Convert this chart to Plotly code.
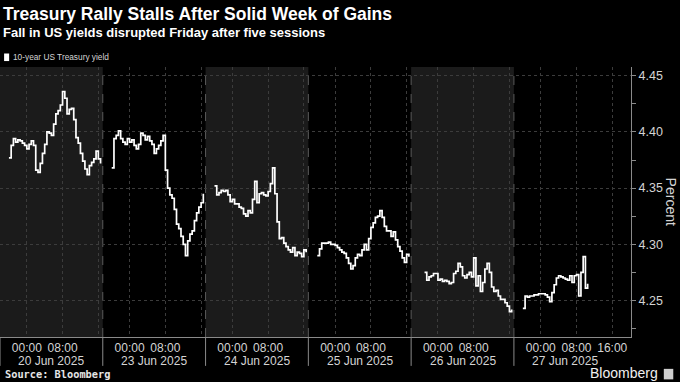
import pandas as pd
import plotly.graph_objects as go

# ---------------- data ----------------
session_starts = ["2025-06-19 20:00", "2025-06-22 20:00", "2025-06-23 20:00",
                  "2025-06-24 20:00", "2025-06-25 21:00", "2025-06-26 20:00"]
step = "30min"

yield_20jun = [4.377, 4.388, 4.394, 4.391, 4.393, 4.392, 4.390, 4.388, 4.385, 4.389, 4.392, 4.388,
               4.366, 4.364, 4.372, 4.381, 4.389, 4.400, 4.399, 4.397, 4.407, 4.416, 4.419, 4.424,
               4.436, 4.430, 4.416, 4.420, 4.421, 4.411, 4.395, 4.390, 4.381, 4.374, 4.367, 4.362,
               4.370, 4.373, 4.376, 4.383, 4.376, 4.372]
yield_23jun = [4.368, 4.394, 4.397, 4.401, 4.394, 4.391, 4.389, 4.394, 4.391, 4.393, 4.388, 4.385,
               4.389, 4.399, 4.397, 4.393, 4.396, 4.392, 4.389, 4.381, 4.385, 4.388, 4.392, 4.397,
               4.366, 4.350, 4.344, 4.341, 4.331, 4.318, 4.314, 4.307, 4.300, 4.290, 4.303, 4.309,
               4.312, 4.321, 4.328, 4.333, 4.337, 4.345]
yield_24jun = [4.352, 4.344, 4.346, 4.348, 4.347, 4.348, 4.344, 4.338, 4.340, 4.336, 4.336, 4.333,
               4.332, 4.327, 4.325, 4.330, 4.328, 4.340, 4.356, 4.337, 4.345, 4.346, 4.344, 4.343,
               4.347, 4.354, 4.368, 4.345, 4.320, 4.305, 4.306, 4.301, 4.298, 4.295, 4.293, 4.297,
               4.290, 4.293, 4.292, 4.289, 4.295, 4.293]
yield_25jun = [4.290, 4.296, 4.301, 4.301, 4.301, 4.302, 4.300, 4.300, 4.299, 4.297, 4.295, 4.293,
               4.292, 4.288, 4.283, 4.278, 4.281, 4.288, 4.291, 4.290, 4.295, 4.300, 4.295, 4.305,
               4.315, 4.319, 4.324, 4.325, 4.330, 4.324, 4.316, 4.312, 4.312, 4.307, 4.311, 4.304,
               4.298, 4.294, 4.288, 4.284, 4.291, 4.289]
yield_26jun = [4.275, 4.268, 4.271, 4.272, 4.274, 4.274, 4.268, 4.269, 4.267, 4.268, 4.267, 4.265,
               4.266, 4.274, 4.276, 4.283, 4.280, 4.272, 4.270, 4.273, 4.275, 4.271, 4.288, 4.263,
               4.272, 4.258, 4.266, 4.278, 4.283, 4.275, 4.262, 4.258, 4.259, 4.254, 4.251, 4.251,
               4.248, 4.245, 4.240, 4.242]
yield_27jun = [4.243, 4.254, 4.253, 4.254, 4.254, 4.255, 4.255, 4.256, 4.256, 4.256, 4.255, 4.253,
               4.249, 4.257, 4.264, 4.270, 4.272, 4.271, 4.270, 4.269, 4.268, 4.272, 4.266, 4.272,
               4.273, 4.254, 4.275, 4.289, 4.261, 4.265]
sessions = [yield_20jun, yield_23jun, yield_24jun, yield_25jun, yield_26jun, yield_27jun]

day_labels = ["20 Jun 2025", "23 Jun 2025", "24 Jun 2025", "25 Jun 2025", "26 Jun 2025", "27 Jun 2025"]
day_dates = ["2025-06-20", "2025-06-23", "2025-06-24", "2025-06-25", "2025-06-26", "2025-06-27"]
session_open = ["2025-06-19 18:00", "2025-06-22 18:00", "2025-06-23 18:00",
                "2025-06-24 18:00", "2025-06-25 18:00", "2025-06-26 18:00"]
session_close = ["2025-06-20 16:59:59", "2025-06-23 16:59:59", "2025-06-24 16:59:59",
                 "2025-06-25 16:59:59", "2025-06-26 16:59:59"]
breaks = [["2025-06-20 17:00", "2025-06-22 18:00"],
          ["2025-06-23 17:00", "2025-06-23 18:00"],
          ["2025-06-24 17:00", "2025-06-24 18:00"],
          ["2025-06-25 17:00", "2025-06-25 18:00"],
          ["2025-06-26 17:00", "2025-06-26 18:00"]]
x_range = ["2025-06-19 18:00", "2025-06-27 20:12"]
y_ticks = [4.25, 4.30, 4.35, 4.40, 4.45]
y_range = [4.2175, 4.4578]

# ---------------- build series ----------------
xs, ys = [], []
for start, vals in zip(session_starts, sessions):
    t = pd.date_range(start, periods=len(vals), freq=step)
    xs += list(t) + [None]
    ys += list(vals) + [None]

tickvals, ticktext = [], []
for i, d in enumerate(day_dates):
    for hh in ["00:00", "08:00", "16:00"]:
        tickvals.append(pd.Timestamp(f"{d} {hh}"))
        if hh == "16:00" and i < len(day_dates) - 1:
            ticktext.append("")
        else:
            ticktext.append(hh)

TXT = "#d4d4d4"
GRID = "#3c3c3c"
SANS = "Liberation Sans, Arial, sans-serif"

fig = go.Figure()
fig.add_trace(go.Scatter(x=xs, y=ys, mode="lines", line=dict(color="#ffffff", width=1.7, shape="hv"),
                         name="10-year US Treasury yield", showlegend=False, connectgaps=False))

shapes = []
for k in [0, 2, 4]:
    shapes.append(dict(type="rect", xref="x", yref="paper", x0=session_open[k], x1=session_close[k],
                       y0=0, y1=1, fillcolor="#1b1b1b", line_width=0, layer="below"))
for c in session_close:
    shapes.append(dict(type="line", xref="x", yref="paper", x0=c, x1=c, y0=0, y1=1,
                       line=dict(color="#5a5a5a", width=1, dash="dash"), layer="below"))
for c in [x_range[0]] + session_close:
    shapes.append(dict(type="line", xref="x", yref="paper", x0=c, x1=c, y0=0, y1=-0.107,
                       line=dict(color="#8a8a8a", width=1)))
shapes.append(dict(type="rect", xref="paper", yref="paper", x0=0.0065, x1=0.0145,
                   y0=1.022, y1=1.05, fillcolor="#ffffff", line_width=0))
shapes.append(dict(type="rect", xref="paper", yref="paper", x0=1.052, x1=1.067,
                   y0=-0.157, y1=-0.118, fillcolor="#cfcfcf", line_width=0))

annotations = [
    dict(text="<b>Treasury Rally Stalls After Solid Week of Gains</b>", x=0.002, y=1.195,
         xref="paper", yref="paper", xanchor="left", yanchor="middle", showarrow=False,
         font=dict(family=SANS, size=17.5, color="#ffffff")),
    dict(text="<b>Fall in US yields disrupted Friday after five sessions</b>", x=0.002, y=1.126,
         xref="paper", yref="paper", xanchor="left", yanchor="middle", showarrow=False,
         font=dict(family=SANS, size=13, color="#ffffff")),
    dict(text="10-year US Treasury yield", x=0.017, y=1.036,
         xref="paper", yref="paper", xanchor="left", yanchor="middle", showarrow=False,
         font=dict(family=SANS, size=8.3, color=TXT)),
    dict(text="<b>Source: Bloomberg</b>", x=0.004, y=-0.137,
         xref="paper", yref="paper", xanchor="left", yanchor="middle", showarrow=False,
         font=dict(family="DejaVu Sans Mono, monospace", size=10.3, color="#e6e6e6")),
    dict(text="Bloomberg", x=1.046, y=-0.133,
         xref="paper", yref="paper", xanchor="right", yanchor="middle", showarrow=False,
         font=dict(family=SANS, size=14, color="#f0f0f0")),
    dict(text="Percent", x=1.064, y=0.5, textangle=90,
         xref="paper", yref="paper", xanchor="center", yanchor="middle", showarrow=False,
         font=dict(family=SANS, size=14, color=TXT)),
]
for lab, d in zip(day_labels, day_dates):
    annotations.append(dict(text=lab, x=f"{d} 05:30", y=-0.089, xref="x", yref="paper",
                            xanchor="center", yanchor="middle", showarrow=False, borderpad=0,
                            font=dict(family=SANS, size=12, color=TXT)))

fig.update_layout(
    width=680, height=382,
    margin=dict(l=0, r=49, t=67, b=45),
    paper_bgcolor="#000000", plot_bgcolor="#000000",
    shapes=shapes, annotations=annotations,
    showlegend=False,
    xaxis=dict(
        type="date", range=x_range,
        rangebreaks=[dict(bounds=b) for b in breaks],
        tickvals=tickvals, ticktext=ticktext,
        tickfont=dict(family=SANS, size=12, color=TXT),
        ticks="",
        showgrid=True, gridcolor=GRID, griddash="dot", gridwidth=1,
        showline=True, linecolor="#8a8a8a", linewidth=1,
        zeroline=False,
    ),
    yaxis=dict(
        side="right", range=y_range,
        tickvals=y_ticks, ticktext=[f"{v:.2f}" for v in y_ticks],
        tickfont=dict(family=SANS, size=12.5, color=TXT),
        ticks="outside", ticklen=4, tickcolor="#8a8a8a",
        minor=dict(dtick=0.025, tick0=4.225, ticks="outside", ticklen=4, tickcolor="#8a8a8a", showgrid=False),
        showgrid=True, gridcolor=GRID, griddash="dot", gridwidth=1,
        showline=True, linecolor="#8a8a8a", linewidth=1,
        zeroline=False,
    ),
)

fig.write_html("out.html", config={"displayModeBar": False},
               post_script="document.body.style.margin='0';document.body.style.background='#000';")
